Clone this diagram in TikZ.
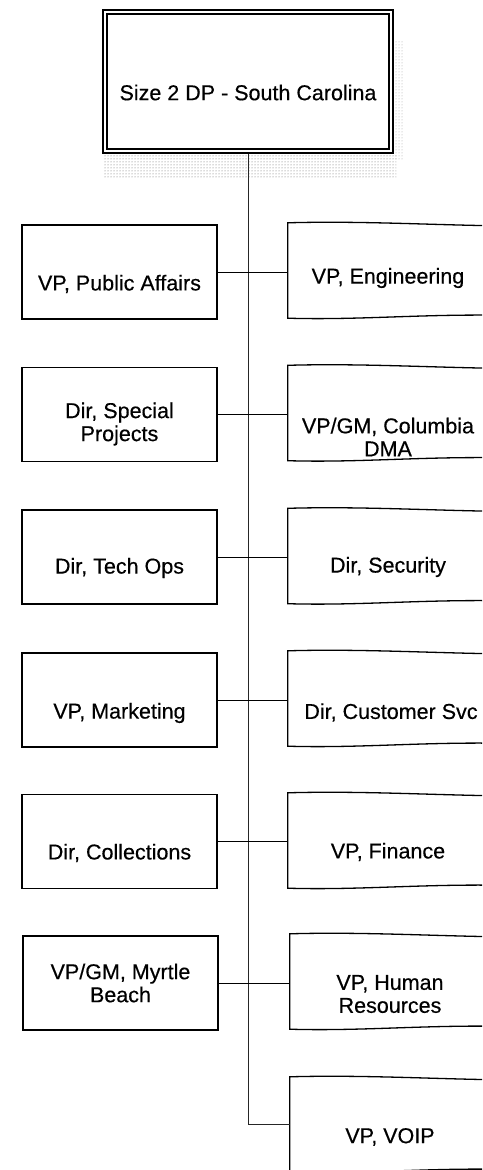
\documentclass[tikz,border=0pt]{standalone}
\usepackage{fontspec}
\setmainfont{Liberation Sans}
\newfontfamily\labelfont[FakeBold=0.4]{Liberation Sans}
\usetikzlibrary{patterns,calc}
\newcommand\rboxdraw[1]{%
  \draw[rline] ([shift={(8,3)}]#1.north east)
    .. controls ([shift={(-60,2)}]#1.north east) and ([shift={(-130,-2)}]#1.north east) .. (#1.north west)
    -- (#1.south west)
    .. controls ([shift={(70,2)}]#1.south west) and ([shift={(130,-4)}]#1.south west) .. ([shift={(8,-3)}]#1.south east);}
\begin{document}
\begin{tikzpicture}[x=1pt,y=-1pt,
  lbox/.style={draw=black, line width=1.3pt, minimum width=195pt, minimum height=94pt, inner sep=0pt},
  rshape/.style={minimum width=200pt, minimum height=95pt, inner sep=0pt},
  rline/.style={draw=black, line width=1.3pt},
  txt/.style={font=\labelfont\fontsize{21.5}{23}\selectfont, align=center, inner sep=0pt},
  conn/.style={draw=black, line width=0.8pt},
  spine/.style={draw=black!85, line width=0.7pt}]
\useasboundingbox (0,0) rectangle (482,1170);
\clip (0,0) rectangle (482,1170);
\fill[white] (0,0) rectangle (482,1170);
% shadow of the top box
\fill[pattern=dots, pattern color=black!60] (104,154) rectangle (396,178);
\fill[pattern=dots, pattern color=black!35] (394,40) rectangle (404,160);
% top box
\node[draw=black, line width=1.6pt, minimum width=290pt, minimum height=143pt, inner sep=0pt, fill=white] (top) at (248,81.5) {};
\draw[line width=1.6pt] ([shift={(5,5)}]top.north west) rectangle ([shift={(-5,-5)}]top.south east);
\node[txt] (t0) at ([yshift=-11pt]top.center) {Size 2 DP - South Carolina};
% left boxes
\node[lbox] (l1) at (119.5,272) {};
\node[lbox] (l2) at (119.5,414.5) {};
\node[lbox] (l3) at (119.5,557) {};
\node[lbox] (l4) at (119.5,700) {};
\node[lbox] (l5) at (119.5,841.5) {};
\node[lbox] (l6) at (120.5,983) {};
\node[txt] (tl1) at ([yshift=-12pt]l1.center) {VP, Public Affairs};
\node[txt] (tl2) at ([yshift=-9.5pt]l2.center) {Dir, Special\\Projects};
\node[txt] (tl3) at ([yshift=-11pt]l3.center) {Dir, Tech Ops};
\node[txt] (tl4) at ([yshift=-13pt]l4.center) {VP, Marketing};
\node[txt] (tl5) at ([yshift=-11.5pt]l5.center) {Dir, Collections};
\node[txt] (tl6) at (l6.center) {VP/GM, Myrtle\\Beach};
% right boxes
\node[rshape] (r1) at (388,270.5) {};
\node[rshape] (r2) at (388,413) {};
\node[rshape] (r3) at (388,556) {};
\node[rshape] (r4) at (388,698.5) {};
\node[rshape] (r5) at (388,840.5) {};
\node[rshape] (r6) at (390,981.5) {};
\node[rshape] (r7) at (390,1124.5) {};
\rboxdraw{r1}
\rboxdraw{r2}
\rboxdraw{r3}
\rboxdraw{r4}
\rboxdraw{r5}
\rboxdraw{r6}
\rboxdraw{r7}
\node[txt] (tr1) at ([yshift=-7.5pt]r1.center) {VP, Engineering};
\node[txt] (tr2) at ([yshift=-24pt]r2.center) {VP/GM, Columbia\\DMA};
\node[txt] (tr3) at ([yshift=-11pt]r3.center) {Dir, Security};
\node[txt] (tr4) at ([yshift=-14pt,xshift=3pt]r4.center) {Dir, Customer Svc};
\node[txt] (tr5) at ([yshift=-11.5pt]r5.center) {VP, Finance};
\node[txt] (tr6) at ([yshift=-12.5pt]r6.center) {VP, Human\\Resources};
\node[txt] (tr7) at ([yshift=-12.5pt]r7.center) {VP, VOIP};
% spine and connectors
\draw[spine] (top.south) -- (top.south |- r7.west) -- (r7.west);
\draw[conn] (l1.east) -- (r1.west |- l1.east);
\draw[conn] (l2.east) -- (r2.west |- l2.east);
\draw[conn] (l3.east) -- (r3.west |- l3.east);
\draw[conn] (l4.east) -- (r4.west |- l4.east);
\draw[conn] (l5.east) -- (r5.west |- l5.east);
\draw[conn] (l6.east) -- (r6.west |- l6.east);
\end{tikzpicture}
\end{document}
